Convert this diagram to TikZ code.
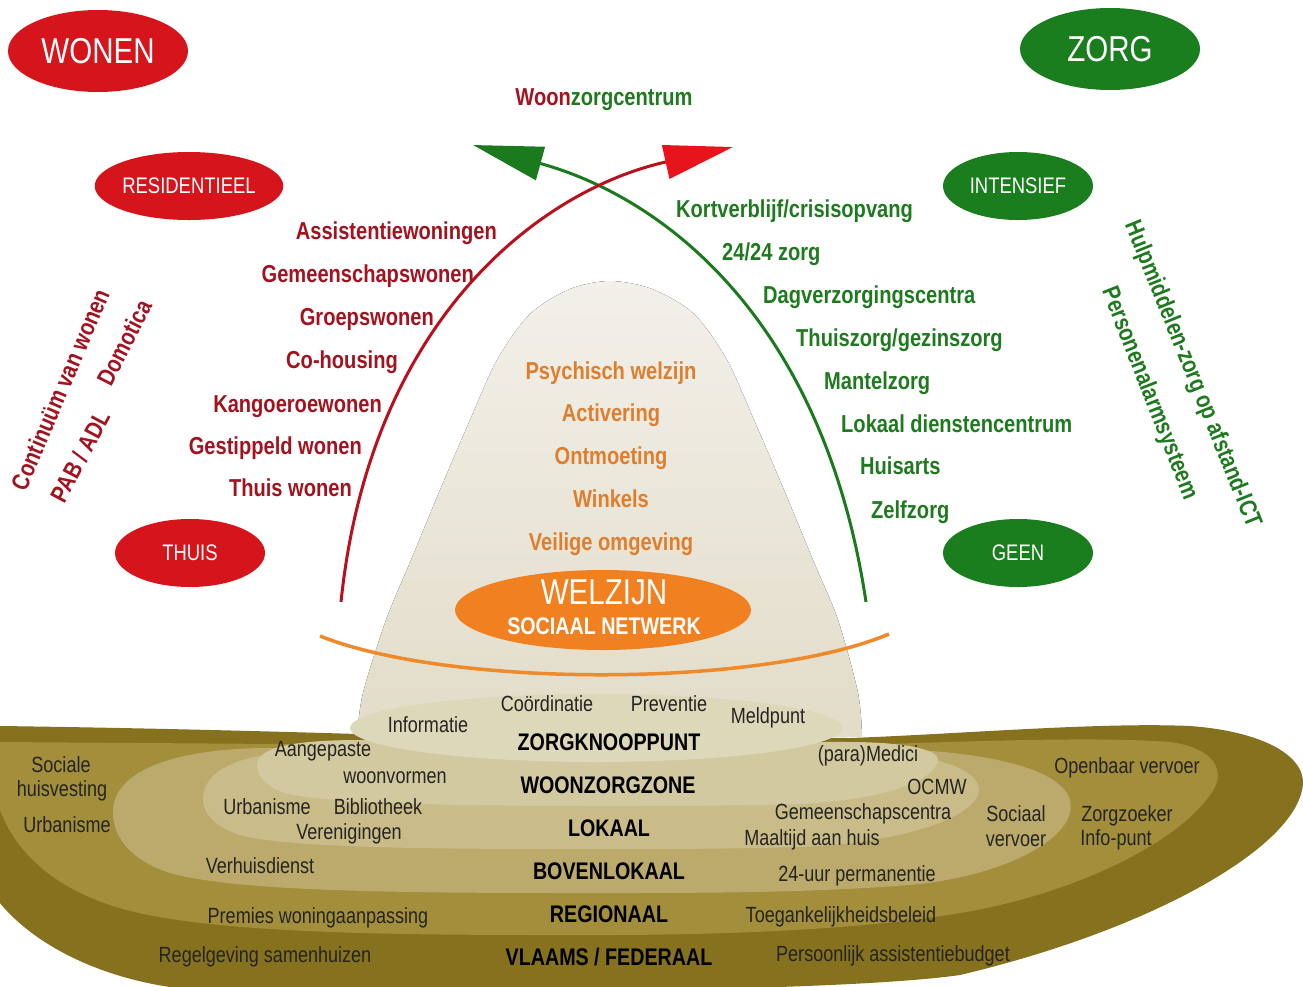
\documentclass[tikz,border=0pt]{standalone}
\usepackage{fontspec}
\newfontfamily\nar{Liberation Sans}[FakeStretch=0.82]
\usetikzlibrary{shapes.geometric,arrows.meta}
\definecolor{wred}{HTML}{D5141C}
\definecolor{wgreen}{HTML}{1A7D1E}
\definecolor{dred}{HTML}{A3131F}
\definecolor{dgreen}{HTML}{1F7A1F}
\definecolor{olab}{HTML}{DF7E2E}
\definecolor{oell}{HTML}{F08020}
\definecolor{oarc}{HTML}{EF8A2A}
\definecolor{arcred}{HTML}{B8101C}
\definecolor{tipred}{HTML}{E8141C}
\definecolor{arcgreen}{HTML}{1B7A1E}
\definecolor{layF}{HTML}{86711F}
\definecolor{layE}{HTML}{A38E3C}
\definecolor{layD}{HTML}{BBAA6C}
\definecolor{layC}{HTML}{C9BC88}
\definecolor{layB}{HTML}{D3C9A0}
\definecolor{layA}{HTML}{DDD8BA}
\definecolor{domeTop}{HTML}{F2F0EA}
\definecolor{domeBot}{HTML}{E2DCC8}
\definecolor{laytext}{HTML}{262420}
\begin{document}
\begin{tikzpicture}[x=1pt,y=-1pt,
  lab/.style={font=\nar\bfseries\fontsize{24.5}{26}\selectfont, inner sep=0pt, yshift=-5.5pt},
  redlab/.style={lab, text=dred, anchor=mid east},
  greenlab/.style={lab, text=dgreen, anchor=mid west},
  orlab/.style={lab, text=olab, anchor=mid},
  lay/.style={font=\nar\fontsize{22}{24}\selectfont, text=laytext, inner sep=0pt, anchor=mid, yshift=-5pt},
  laybold/.style={font=\nar\bfseries\fontsize{24}{26}\selectfont, text=black, inner sep=0pt, anchor=mid, yshift=-5.5pt},
  bigell/.style={ellipse, minimum width=180pt, minimum height=82pt, inner sep=0pt, text=white, font=\nar\fontsize{36}{38}\selectfont},
  smallell/.style={ellipse, minimum width=150pt, minimum height=68pt, inner sep=0pt, text=white, font=\nar\fontsize{22.5}{24}\selectfont},
  arcline/.style={line width=3pt},
]
\useasboundingbox (0,0) rectangle (1303,986);
\fill[white] (0,0) rectangle (1303,986);

% ---------- layered base ----------
\fill[layF] (0,726) .. controls (150,728) and (300,732) .. (420,736) -- (850,738)
  .. controls (960,734) and (1100,722) .. (1190,726)
  .. controls (1270,732) and (1310,760) .. (1302,790)
  .. controls (1290,850) and (1150,930) .. (960,975)
  .. controls (820,995) and (320,994) .. (170,987)
  .. controls (90,975) and (30,940) .. (0,903) -- cycle;
\fill[layE] (0,742) -- (420,745) -- (850,745)
  .. controls (960,742) and (1090,736) .. (1170,742)
  .. controls (1215,748) and (1228,772) .. (1210,795)
  .. controls (1175,845) and (1070,895) .. (960,913)
  .. controls (860,930) and (720,935) .. (600,935)
  .. controls (420,935) and (200,936) .. (110,905)
  .. controls (50,885) and (15,850) .. (0,810) -- cycle;
\fill[layD] (113,812) .. controls (113,772) and (170,750) .. (260,748) -- (850,748)
  .. controls (960,748) and (1050,762) .. (1068,795)
  .. controls (1085,830) and (1020,872) .. (920,884)
  .. controls (820,893) and (700,893) .. (600,893)
  .. controls (430,893) and (240,893) .. (170,873)
  .. controls (130,860) and (113,837) .. (113,812) -- cycle;
\fill[layC] (203,800) .. controls (203,765) and (250,752) .. (320,750) -- (850,750)
  .. controls (935,752) and (980,770) .. (979,790)
  .. controls (977,818) and (900,843) .. (800,847)
  .. controls (720,849) and (680,849) .. (600,849)
  .. controls (450,849) and (290,849) .. (240,835)
  .. controls (215,827) and (203,813) .. (203,800) -- cycle;
\fill[layB] (257,765) .. controls (257,746) and (300,740) .. (360,740) -- (850,742)
  .. controls (905,742) and (940,750) .. (938,760)
  .. controls (935,782) and (880,800) .. (800,804)
  .. controls (720,806) and (680,806) .. (600,806)
  .. controls (450,806) and (320,803) .. (285,793)
  .. controls (265,786) and (257,776) .. (257,765) -- cycle;

% ---------- dome ----------
\fill[top color=domeTop, bottom color=domeBot] plot[smooth] coordinates {
  (357,736) (363,693) (386,620) (411,560) (440,490) (470,420) (497,360) (530,314)
  (570,289) (610,281) (652,289) (694,314) (727,360) (754,420) (784,490) (813,560)
  (838,620) (858,693) (862,736)} -- cycle;

\fill[layA] (596,728) ellipse [x radius=246, y radius=34];

% ---------- orange arc and welzijn ----------
\coordinate (os) at (320,636);
\coordinate (oe) at (889,634);
\draw[oarc, line width=3.5pt] (os) .. controls (450,688) and (760,688) .. (oe);
\node[ellipse, fill=oell, minimum width=296pt, minimum height=80pt, inner sep=0pt] (welz) at (603,610) {};
\node[text=white, font=\nar\fontsize{36}{38}\selectfont, inner sep=0pt, anchor=mid, yshift=-7pt] (welzt) at (604,595) {WELZIJN};
\node[text=white, font=\nar\bfseries\fontsize{24}{26}\selectfont, inner sep=0pt, anchor=mid, yshift=-5pt] (soc) at (604,627) {SOCIAAL NETWERK};

% ---------- arcs ----------
\coordinate (gs) at (866,602);
\coordinate (ge) at (473,145);
\coordinate (rs) at (341,602);
\coordinate (re) at (733,147);
\draw[arcgreen, arcline, -{Triangle[length=70pt,width=34pt,color=arcgreen]}] (gs) .. controls (824,322) and (666,198) .. (ge);
\draw[arcred, arcline, -{Triangle[length=69pt,width=34pt,color=tipred]}] (rs) .. controls (370,320) and (540,190) .. (re);

% ---------- ellipses ----------
\node[bigell, fill=wred] (wonen) at (98,51) {WONEN};
\node[bigell, fill=wgreen] (zorg) at (1110,49) {ZORG};
\node[smallell, fill=wred] (resid) at (189,186) {RESIDENTIEEL};
\node[smallell, fill=wred] (thuis) at (190,553) {THUIS};
\node[smallell, fill=wgreen] (intens) at (1018,186) {INTENSIEF};
\node[smallell, fill=wgreen] (geen) at (1018,553) {GEEN};

\node[lab, anchor=mid] (wzc) at (604,98) {\color{dred}Woon\color{dgreen}zorgcentrum};

% ---------- red labels ----------
\node[redlab] (r1) at (497,232) {Assistentiewoningen};
\node[redlab] (r2) at (474,275) {Gemeenschapswonen};
\node[redlab] (r3) at (434,318) {Groepswonen};
\node[redlab] (r4) at (398,361) {Co-housing};
\node[redlab] (r5) at (382,405) {Kangoeroewonen};
\node[redlab] (r6) at (362,447) {Gestippeld wonen};
\node[redlab] (r7) at (352,489) {Thuis wonen};

% ---------- green labels ----------
\node[greenlab] (g1) at (676,210) {Kortverblijf/crisisopvang};
\node[greenlab] (g2) at (722,253) {24/24 zorg};
\node[greenlab] (g3) at (763,296) {Dagverzorgingscentra};
\node[greenlab] (g4) at (796,339) {Thuiszorg/gezinszorg};
\node[greenlab] (g5) at (824,382) {Mantelzorg};
\node[greenlab] (g6) at (841,425) {Lokaal dienstencentrum};
\node[greenlab] (g7) at (860,467) {Huisarts};
\node[greenlab] (g8) at (871,511) {Zelfzorg};

% ---------- orange labels ----------
\node[orlab] (o1) at (611,372) {Psychisch welzijn};
\node[orlab] (o2) at (611,414) {Activering};
\node[orlab] (o3) at (611,457) {Ontmoeting};
\node[orlab] (o4) at (611,500) {Winkels};
\node[orlab] (o5) at (611,543) {Veilige omgeving};

% ---------- rotated side texts ----------
\node[lab, text=dred, rotate=67, yshift=0pt] (cont) at (60,384) {Continuüm van wonen};
\node[lab, text=dred, rotate=63, yshift=0pt] (domo) at (124,337) {Domotica};
\node[lab, text=dred, rotate=62, yshift=0pt] (pab) at (80,451) {PAB / ADL};
\node[lab, text=dgreen, rotate=-68, yshift=0pt] (hulp) at (1192,369) {Hulpmiddelen-zorg op afstand-ICT};
\node[lab, text=dgreen, rotate=-68.5, yshift=0pt] (pers) at (1149,388) {Personenalarmsysteem};

% ---------- layer labels ----------
\node[laybold] (l1) at (609,743) {ZORGKNOOPPUNT};
\node[laybold] (l2) at (608,786) {WOONZORGZONE};
\node[laybold] (l3) at (609,829) {LOKAAL};
\node[laybold] (l4) at (609,872) {BOVENLOKAAL};
\node[laybold] (l5) at (609,915) {REGIONAAL};
\node[laybold] (l6) at (609,958) {VLAAMS / FEDERAAL};

\node[lay] (t1) at (547,704) {Coördinatie};
\node[lay] (t2) at (669,704) {Preventie};
\node[lay] (t3) at (428,725) {Informatie};
\node[lay] (t4) at (768,716) {Meldpunt};
\node[lay] (t5) at (323,749) {Aangepaste};
\node[lay] (t6) at (395,776) {woonvormen};
\node[lay] (t7) at (868,754) {(para)Medici};
\node[lay] (t8) at (937,787) {OCMW};
\node[lay] (t9) at (61,765) {Sociale};
\node[lay] (t10) at (62,789) {huisvesting};
\node[lay] (t11) at (67,825) {Urbanisme};
\node[lay] (t12) at (267,807) {Urbanisme};
\node[lay] (t13) at (378,807) {Bibliotheek};
\node[lay] (t14) at (349,832) {Verenigingen};
\node[lay] (t15) at (863,812) {Gemeenschapscentra};
\node[lay] (t16) at (812,838) {Maaltijd aan huis};
\node[lay] (t17) at (1016,814) {Sociaal};
\node[lay] (t18) at (1016,839) {vervoer};
\node[lay] (t19) at (1127,766) {Openbaar vervoer};
\node[lay] (t20) at (1127,814) {Zorgzoeker};
\node[lay] (t21) at (1116,838) {Info-punt};
\node[lay] (t22) at (260,866) {Verhuisdienst};
\node[lay] (t23) at (857,874) {24-uur permanentie};
\node[lay] (t24) at (318,916) {Premies woningaanpassing};
\node[lay] (t25) at (841,915) {Toegankelijkheidsbeleid};
\node[lay] (t26) at (265,955) {Regelgeving samenhuizen};
\node[lay] (t27) at (893,954) {Persoonlijk assistentiebudget};
\end{tikzpicture}
\end{document}
